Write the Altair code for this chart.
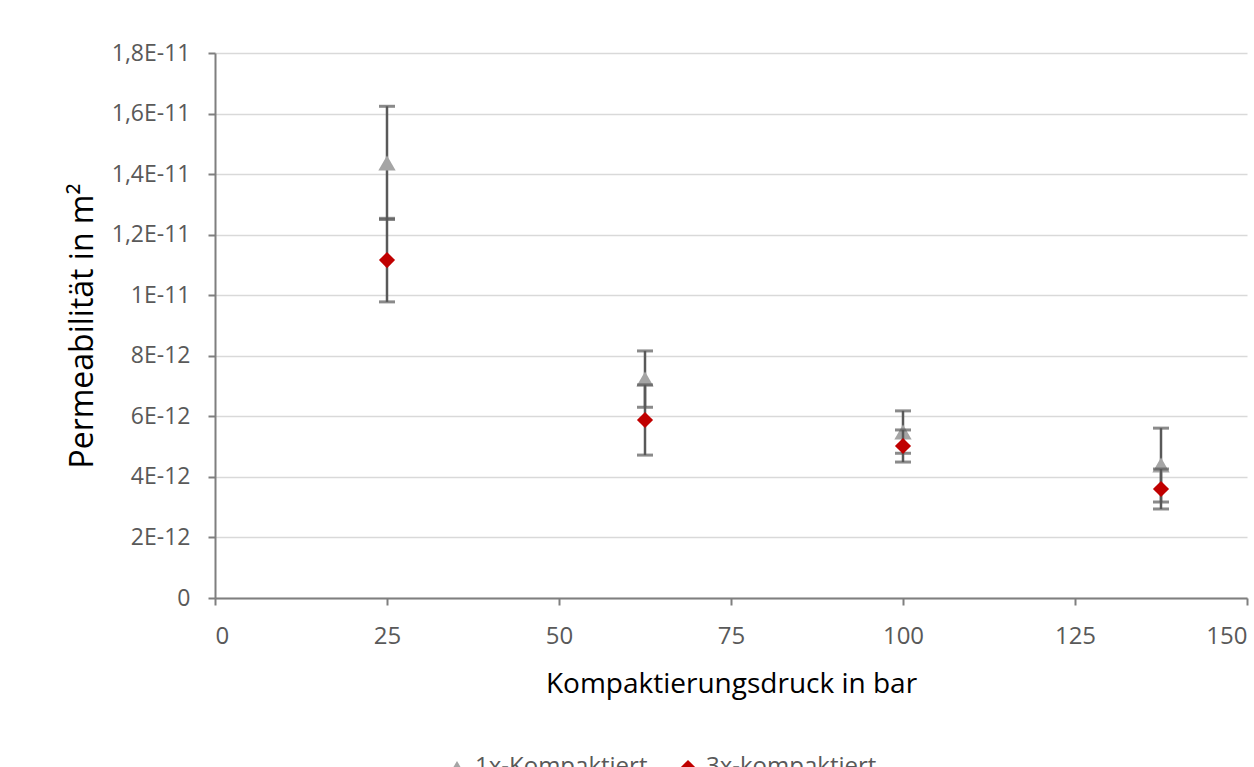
import altair as alt
import pandas as pd

druck = [25, 62.5, 100, 137.5]
perm_1x = [1.437e-11, 7.23e-12, 5.48e-12, 4.39e-12]
err_1x = [1.87e-12, 0.93e-12, 0.70e-12, 1.22e-12]
perm_3x = [1.116e-11, 5.88e-12, 5.02e-12, 3.60e-12]
err_3x = [1.38e-12, 1.16e-12, 0.53e-12, 0.66e-12]
series = ["1x-Kompaktiert", "3x-kompaktiert"]

rows = []
for s, ys, es in [(series[0], perm_1x, err_1x), (series[1], perm_3x, err_3x)]:
    for x, y, e in zip(druck, ys, es):
        rows.append({"Druck": x, "Perm": y, "lo": y - e, "hi": y + e, "Serie": s})
df = pd.DataFrame(rows)

FONT = "Open Sans"
GRAY_TXT = "#595959"
ERR = "#595959"

xscale = alt.Scale(domain=[0, 150], nice=False)
yscale = alt.Scale(domain=[0, 1.8e-11], nice=False)

x_enc = alt.X("Druck:Q", scale=xscale, title="Kompaktierungsdruck in bar",
              axis=alt.Axis(values=[0, 25, 50, 75, 100, 125, 150], grid=False,
                            tickSize=7, labelPadding=19, titlePadding=22,
                            titleFontSize=28, labelFontSize=24))
y_enc = alt.Y("Perm:Q", scale=yscale, title="Permeabilität in m²",
              axis=alt.Axis(values=[i * 2e-12 for i in range(10)], tickSize=7,
                            labelPadding=18, titlePadding=12, titleFontSize=32,
                            labelExpr="datum.value == 0 ? '0' : replace(upper(format(datum.value, '.2~e')), '.', ',')"))

color_scale = alt.Scale(domain=series, range=["#a5a5a5", "#c00000"])
shape_scale = alt.Scale(domain=series, range=["triangle-up", "diamond"])

layers = []
for s, size in [(series[0], 300), (series[1], 260)]:
    d = df[df["Serie"] == s]
    base = alt.Chart(d)
    rule = base.mark_rule(color=ERR, strokeWidth=2.5).encode(x=x_enc, y=y_enc, y2="hi:Q")
    rule2 = base.mark_rule(color=ERR, strokeWidth=2.5).encode(x=x_enc, y=alt.Y("lo:Q", scale=yscale), y2="Perm:Q")
    cap_lo = base.mark_tick(color=ERR, thickness=3, size=16, orient="horizontal").encode(
        x=x_enc, y=alt.Y("lo:Q", scale=yscale))
    cap_hi = base.mark_tick(color=ERR, thickness=3, size=16, orient="horizontal").encode(
        x=x_enc, y=alt.Y("hi:Q", scale=yscale))
    pts = base.mark_point(filled=True, opacity=1, size=size).encode(
        x=x_enc, y=y_enc,
        color=alt.Color("Serie:N", scale=color_scale,
                        legend=alt.Legend(title=None, orient="none", direction="horizontal",
                                          legendX=230, legendY=702, labelFontSize=24,
                                          labelColor=GRAY_TXT, labelFont=FONT, symbolSize=200,
                                          labelLimit=400, columnPadding=28, labelOffset=6,
                                          symbolOpacity=1)),
        shape=alt.Shape("Serie:N", scale=shape_scale, legend=None),
    )
    layers += [rule, rule2, cap_lo, cap_hi, pts]

chart = alt.layer(*layers).properties(
    width=1032, height=545,
    autosize=alt.AutoSizeParams(type="none"),
    padding={"left": 215, "top": 53, "right": 7, "bottom": 169},
    background="white",
).configure_view(stroke=None).configure_axis(
    labelFont=FONT, labelFontSize=23, labelColor=GRAY_TXT,
    titleFont=FONT, titleColor="#000000", titleFontWeight="normal",
    domainColor="#7f7f7f", domainWidth=2, tickColor="#7f7f7f", tickWidth=2,
    gridColor="#d9d9d9", gridWidth=1.5,
)

chart.save("out.html", embed_options={"renderer": "svg", "actions": False})
